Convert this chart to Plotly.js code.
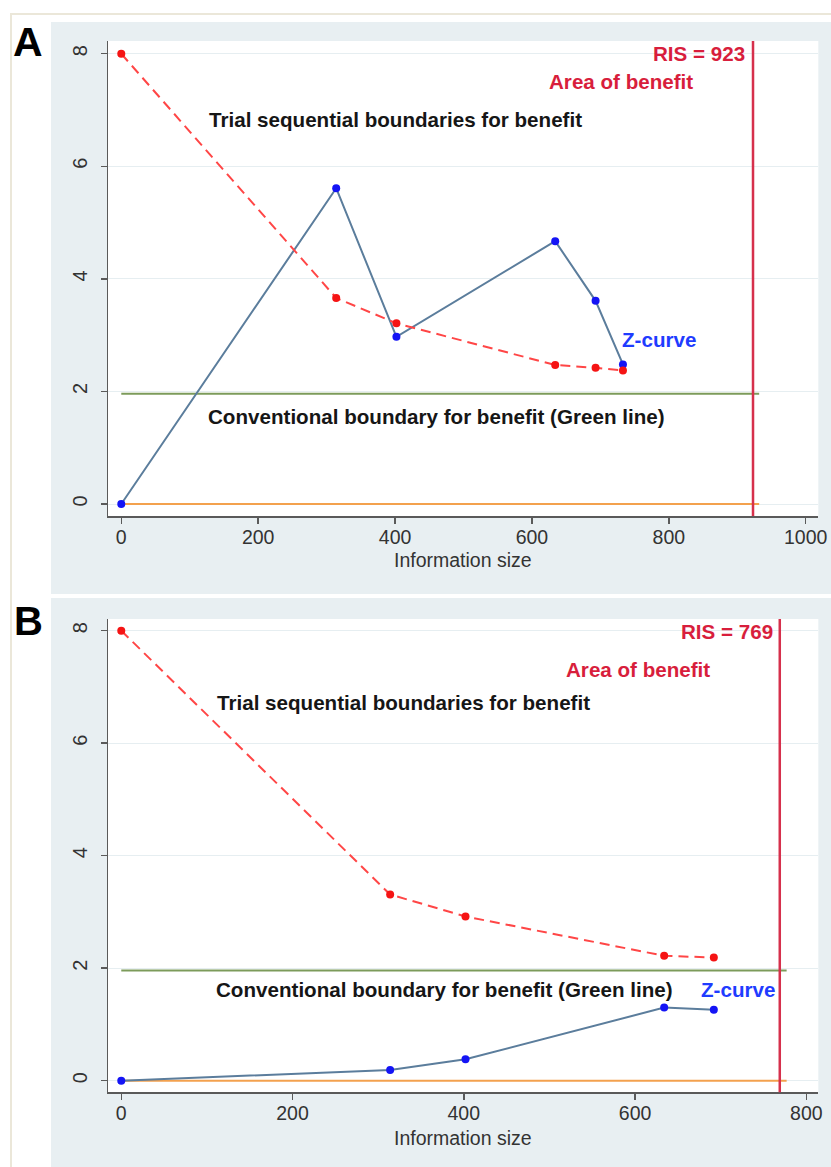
<!DOCTYPE html>
<html><head><meta charset="utf-8">
<script src="https://cdn.plot.ly/plotly-3.0.1.min.js"></script>
<style>html,body{margin:0;padding:0;background:#fff}#chart{width:831px;height:1167px}</style>
</head><body><div id="chart"></div>
<script>
// ---- Data ----
const infoA = [0, 314, 402, 634, 693, 733];
const boundaryA = [8, 3.66, 3.21, 2.47, 2.42, 2.37];
const zCurveA = [0, 5.61, 2.97, 4.67, 3.61, 2.48];
const risA = 923;
const lineEndA = 932;

const infoB = [0, 314, 402, 634, 692];
const boundaryB = [8, 3.31, 2.92, 2.22, 2.19];
const zCurveB = [0, 0.19, 0.38, 1.30, 1.26];
const risB = 769;
const lineEndB = 777;

const conventional = 1.96;
const xTicksA = [0, 200, 400, 600, 800, 1000];
const xTicksB = [0, 200, 400, 600, 800];
const yTicks = [0, 2, 4, 6, 8];
const panelLabels = ['A', 'B'];
const xTitle = 'Information size';
const txtTrial = 'Trial sequential boundaries for benefit';
const txtConv = 'Conventional boundary for benefit (Green line)';
const txtArea = 'Area of benefit';
const txtZ = 'Z-curve';

// ---- Styling ----
const W = 831, H = 1167;
const px = v => v / W;
const py = v => 1 - v / H;
const FONT = 'Liberation Sans, Arial, Helvetica, sans-serif';
const C_PANEL = '#e8eff2';
const C_FRAME = '#ebe7d9';
const C_RED_TXT = '#d81e3c';
const C_BLUE_TXT = '#1f3cff';
const C_ZLINE = '#5b7d9c';
const C_ZMARK = '#1414f5';
const C_BOUND = '#ff4646';
const C_BMARK = '#f51414';
const C_GREEN = '#7c9b5a';
const C_ORANGE = '#f3a14e';
const C_AXIS = '#5a5a5a';
const C_GRID = '#e6eef1';
const ANN_SIZE = 20.6;

function panelTraces(xa, ya, info, bound, z, lineEnd) {
  return [
    {x: [0, lineEnd], y: [0, 0], xaxis: xa, yaxis: ya, mode: 'lines',
     line: {color: C_ORANGE, width: 2}, hoverinfo: 'skip', showlegend: false},
    {x: [0, lineEnd], y: [conventional, conventional], xaxis: xa, yaxis: ya, mode: 'lines',
     line: {color: C_GREEN, width: 2}, hoverinfo: 'skip', showlegend: false},
    {x: info, y: z, xaxis: xa, yaxis: ya, mode: 'lines+markers',
     line: {color: C_ZLINE, width: 2}, marker: {color: C_ZMARK, size: 8}, showlegend: false},
    {x: info, y: bound, xaxis: xa, yaxis: ya, mode: 'lines+markers',
     line: {color: C_BOUND, width: 2, dash: '10px,6px'}, marker: {color: C_BMARK, size: 8}, showlegend: false}
  ];
}

const data = [].concat(
  panelTraces('x', 'y', infoA, boundaryA, zCurveA, lineEndA),
  panelTraces('x2', 'y2', infoB, boundaryB, zCurveB, lineEndB)
);

function xAxis(range, ticks, anchor) {
  return {
    domain: [px(108), px(818.3)], range: range, anchor: anchor,
    tickmode: 'array', tickvals: ticks, ticks: 'outside', ticklen: 6, tickwidth: 1.5,
    tickcolor: C_AXIS, showline: true, linecolor: C_AXIS, linewidth: 1.5,
    showgrid: false, zeroline: false, ticklabelstandoff: -3,
    tickfont: {family: FONT, size: 19.5, color: '#333'},
    automargin: false, fixedrange: true
  };
}
function yAxis(domain, range, anchor) {
  return {
    domain: domain, range: range, anchor: anchor,
    tickmode: 'array', tickvals: yTicks, ticks: 'outside', ticklen: 6, tickwidth: 1.5,
    tickcolor: C_AXIS, showline: true, linecolor: C_AXIS, linewidth: 1.5,
    showgrid: true, gridcolor: C_GRID, gridwidth: 1, zeroline: false,
    tickangle: -90, ticklabelstandoff: 6,
    tickfont: {family: FONT, size: 20, color: '#333'},
    automargin: false, fixedrange: true
  };
}

function ann(xref, yref, x, y, text, color, xanchor) {
  return {xref: xref, yref: yref, x: x, y: y, text: text, showarrow: false,
          xanchor: xanchor || 'center', yanchor: 'middle',
          font: {family: FONT, size: ANN_SIZE, color: color}};
}
const bold = t => '<b>' + t + '</b>';

const annotations = [
  // Panel A
  ann('x', 'y', 914, 8.01, bold('RIS = ' + risA), C_RED_TXT, 'right'),
  ann('x', 'y', 730, 7.50, bold(txtArea), C_RED_TXT),
  ann('x', 'y', 400, 6.83, bold(txtTrial), '#161616'),
  ann('x', 'y', 460, 1.55, bold(txtConv), '#161616'),
  ann('x', 'y', 785, 2.93, bold(txtZ), C_BLUE_TXT),
  // Panel B
  ann('x2', 'y2', 763, 7.98, bold('RIS = ' + risB), C_RED_TXT, 'right'),
  ann('x2', 'y2', 604, 7.31, bold(txtArea), C_RED_TXT),
  ann('x2', 'y2', 329.5, 6.72, bold(txtTrial), '#161616'),
  ann('x2', 'y2', 378, 1.63, bold(txtConv), '#161616'),
  ann('x2', 'y2', 720, 1.63, bold(txtZ), C_BLUE_TXT),
  // Axis titles
  {xref: 'x domain', yref: 'paper', x: 0.5, y: py(560), text: xTitle, showarrow: false,
   xanchor: 'center', yanchor: 'middle', font: {family: FONT, size: 19.5, color: '#333'}},
  {xref: 'x2 domain', yref: 'paper', x: 0.5, y: py(1138), text: xTitle, showarrow: false,
   xanchor: 'center', yanchor: 'middle', font: {family: FONT, size: 19.5, color: '#333'}},
  // Panel labels
  {xref: 'paper', yref: 'paper', x: px(27.5), y: py(42), text: bold(panelLabels[0]), showarrow: false,
   xanchor: 'center', yanchor: 'middle', font: {family: FONT, size: 41, color: '#000'}},
  {xref: 'paper', yref: 'paper', x: px(28.5), y: py(621), text: bold(panelLabels[1]), showarrow: false,
   xanchor: 'center', yanchor: 'middle', font: {family: FONT, size: 40, color: '#000'}}
];

const shapes = [
  // white surround and gap between the panels
  {type: 'rect', xref: 'paper', yref: 'paper', x0: 0, x1: 1, y0: py(22), y1: 1, fillcolor: '#fff', line: {width: 0}, layer: 'below'},
  {type: 'rect', xref: 'paper', yref: 'paper', x0: 0, x1: px(51), y0: 0, y1: 1, fillcolor: '#fff', line: {width: 0}, layer: 'below'},
  {type: 'rect', xref: 'paper', yref: 'paper', x0: 0, x1: 1, y0: py(598), y1: py(594), fillcolor: '#fff', line: {width: 0}, layer: 'below'},
  // beige frame lines
  {type: 'rect', xref: 'paper', yref: 'paper', x0: px(10), x1: 1, y0: py(15), y1: py(13), fillcolor: C_FRAME, line: {width: 0}, layer: 'below'},
  {type: 'rect', xref: 'paper', yref: 'paper', x0: px(10), x1: px(12), y0: 0, y1: py(13), fillcolor: C_FRAME, line: {width: 0}, layer: 'below'},
  // RIS vertical lines
  {type: 'line', xref: 'x', yref: 'y domain', x0: risA, x1: risA, y0: 0, y1: 1, line: {color: '#d6304c', width: 2.5}},
  {type: 'line', xref: 'x2', yref: 'y2 domain', x0: risB, x1: risB, y0: 0, y1: 1, line: {color: '#d6304c', width: 2.5}}
];

const layout = {
  width: W, height: H,
  margin: {l: 0, r: 0, t: 0, b: 0, pad: 0},
  paper_bgcolor: C_PANEL, plot_bgcolor: '#ffffff',
  showlegend: false,
  font: {family: FONT},
  xaxis: xAxis([-19.4, 1018.4], xTicksA, 'y'),
  yaxis: yAxis([py(516), py(41)], [-0.213, 8.226], 'x'),
  xaxis2: xAxis([-15.5, 814], xTicksB, 'y2'),
  yaxis2: yAxis([py(1092.3), py(619)], [-0.206, 8.208], 'x2'),
  annotations: annotations,
  shapes: shapes
};

Plotly.newPlot('chart', data, layout, {displayModeBar: false, staticPlot: true});
</script>
</body></html>
